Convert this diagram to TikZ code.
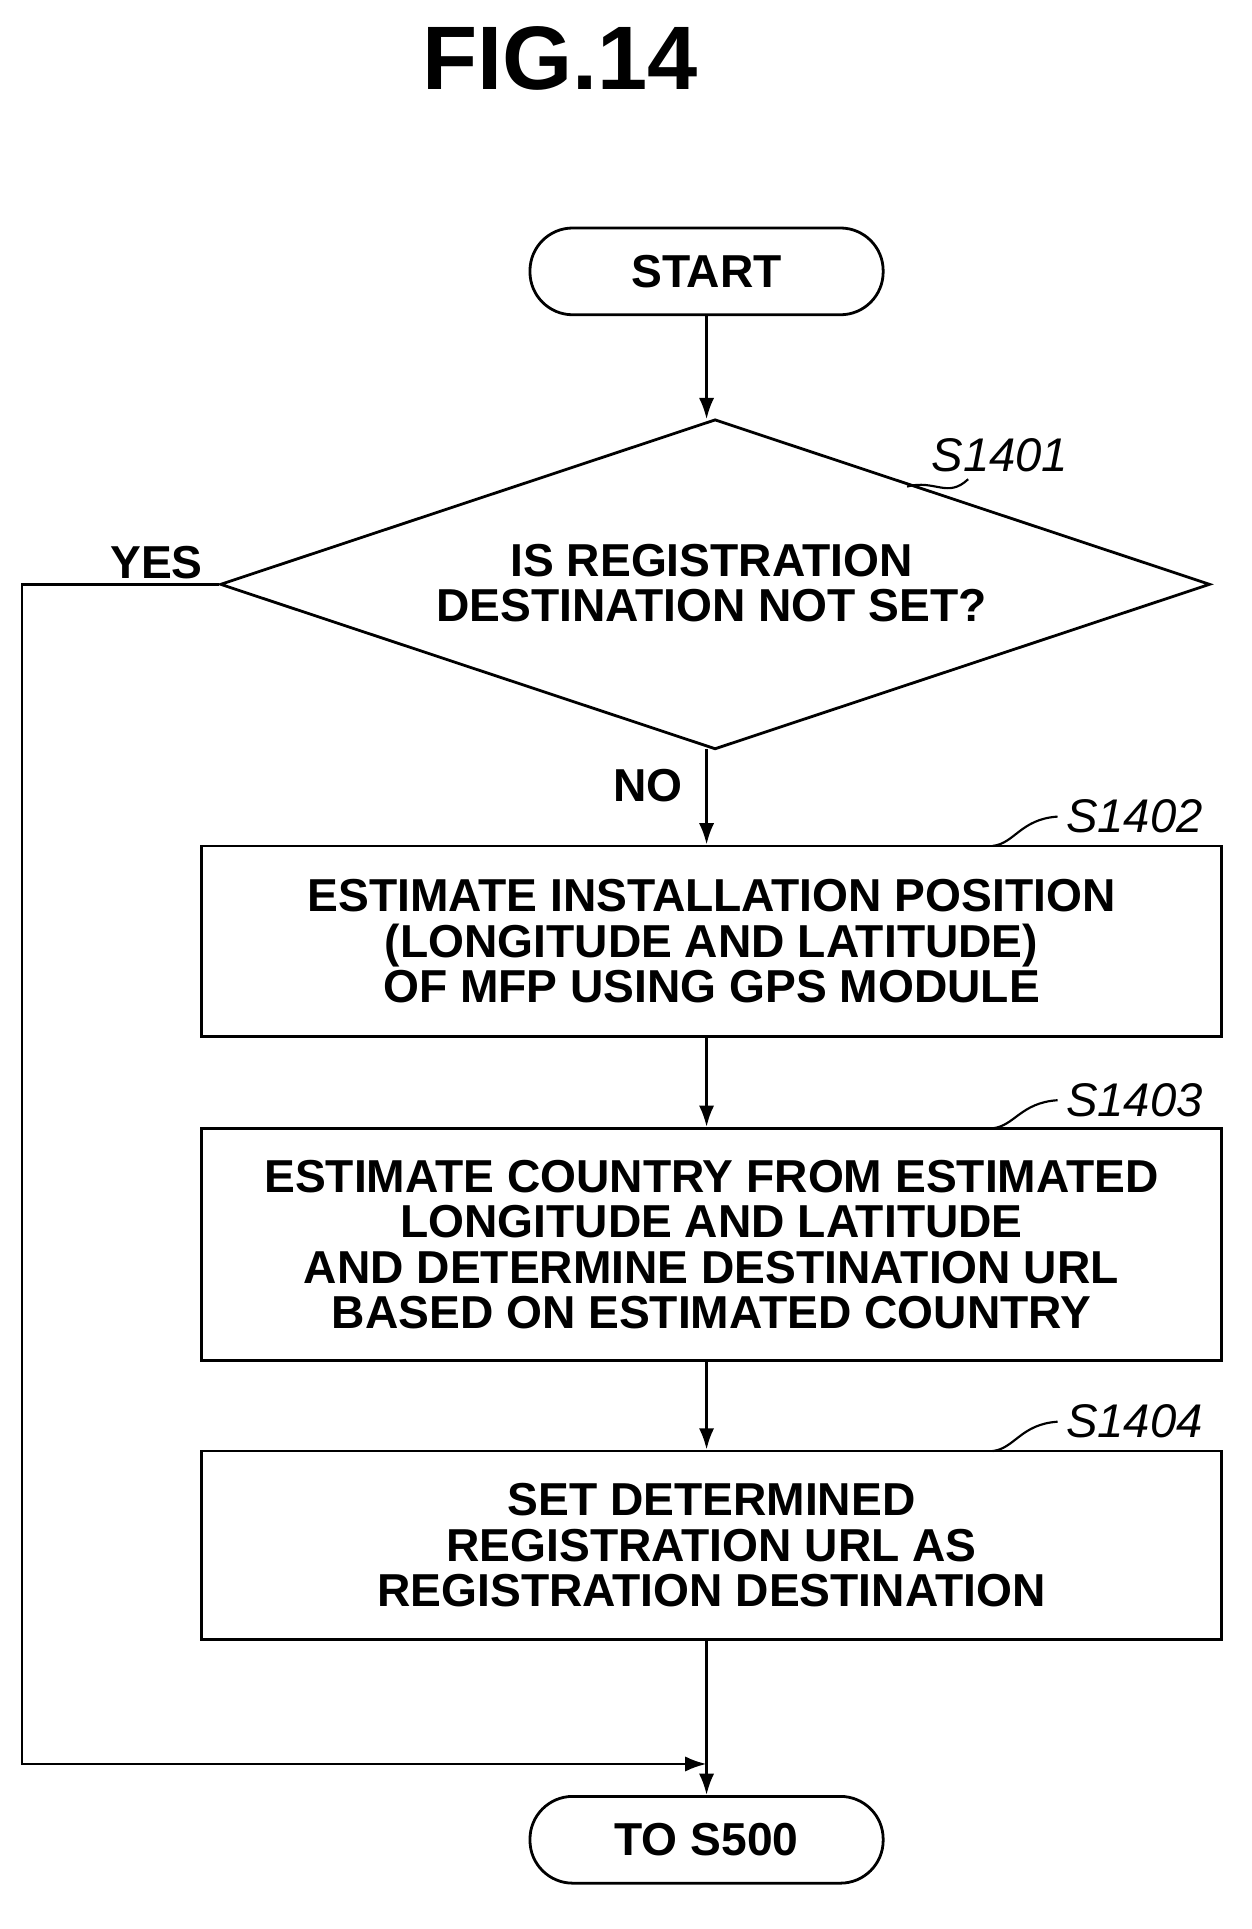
\documentclass[tikz,border=0pt]{standalone}
\usepackage{fontspec}
\setmainfont{Liberation Sans}
\usetikzlibrary{shapes.geometric,arrows.meta}
\begin{document}
\begin{tikzpicture}[x=0.02cm,y=-0.02cm,
  line width=1.3pt,
  txt/.style={font=\fontsize{21.5}{21.2}\selectfont\bfseries,align=center},
  term/.style={draw,rounded corners=0.7cm,minimum width=5.78cm,minimum height=1.42cm,txt},
  box/.style={draw,minimum width=16.7cm,txt},
  lab/.style={font=\fontsize{22}{22}\selectfont\itshape},
  arr/.style={-{Latex[length=0.35cm,width=0.25cm]}}]
\useasboundingbox (0,0) rectangle (1024,1578);
\node[font=\fontsize{42}{42}\selectfont\bfseries] (title) at (458,48) {FIG.14};
\node[term] (start) at (578,222) {START};
\node[draw,diamond,aspect=3,minimum width=16.2cm,minimum height=5.4cm,inner sep=0pt] (d) at (585,478) {};
\node[txt] (dt) at (582,477) {IS REGISTRATION\\DESTINATION NOT SET?};
\node[box,minimum height=3.12cm] (b2) at (582,770) {ESTIMATE INSTALLATION POSITION\\(LONGITUDE AND LATITUDE)\\OF MFP USING GPS MODULE};
\node[box,minimum height=3.8cm] (b3) at (582,1018) {ESTIMATE COUNTRY FROM ESTIMATED\\LONGITUDE AND LATITUDE\\AND DETERMINE DESTINATION URL\\BASED ON ESTIMATED COUNTRY};
\node[box,minimum height=3.08cm] (b4) at (582,1264) {SET DETERMINED\\REGISTRATION URL AS\\REGISTRATION DESTINATION};
\node[term] (end) at (578,1505) {TO S500};
\node[txt] (yes) at (128,460) {YES};
\node[txt] (no) at (530,643) {NO};
\node[lab] (l1) at (818,372) {S1401};
\node[lab] (l2) at (928,668) {S1402};
\node[lab] (l3) at (928,900) {S1403};
\node[lab] (l4) at (928,1163) {S1404};
\coordinate (m) at (578,1443);
\coordinate (c1) at (18,478);
\coordinate (c2) at (18,1443);
\draw[arr] (start) -- (578,343);
\draw[arr] (578,613) -- (b2.north -| 578,0);
\draw[arr] (b2.south -| 578,0) -- (b3.north -| 578,0);
\draw[arr] (b3.south -| 578,0) -- (b4.north -| 578,0);
\draw (b4.south -| 578,0) -- (m);
\draw[arr] (m) -- (end);
\draw[arr] (d.west) -- (c1) -- (c2) -- (m);
\draw[line width=1pt] (742,398) .. controls (765,392) and (775,408) .. (792,392);
\draw[line width=1pt] (l2.west) .. controls (835,670) and (830,690) .. (812,692);
\draw[line width=1pt] (l3.west) .. controls (835,902) and (830,921) .. (812,923);
\draw[line width=1pt] (l4.west) .. controls (835,1165) and (830,1185) .. (812,1187);
\end{tikzpicture}
\end{document}
